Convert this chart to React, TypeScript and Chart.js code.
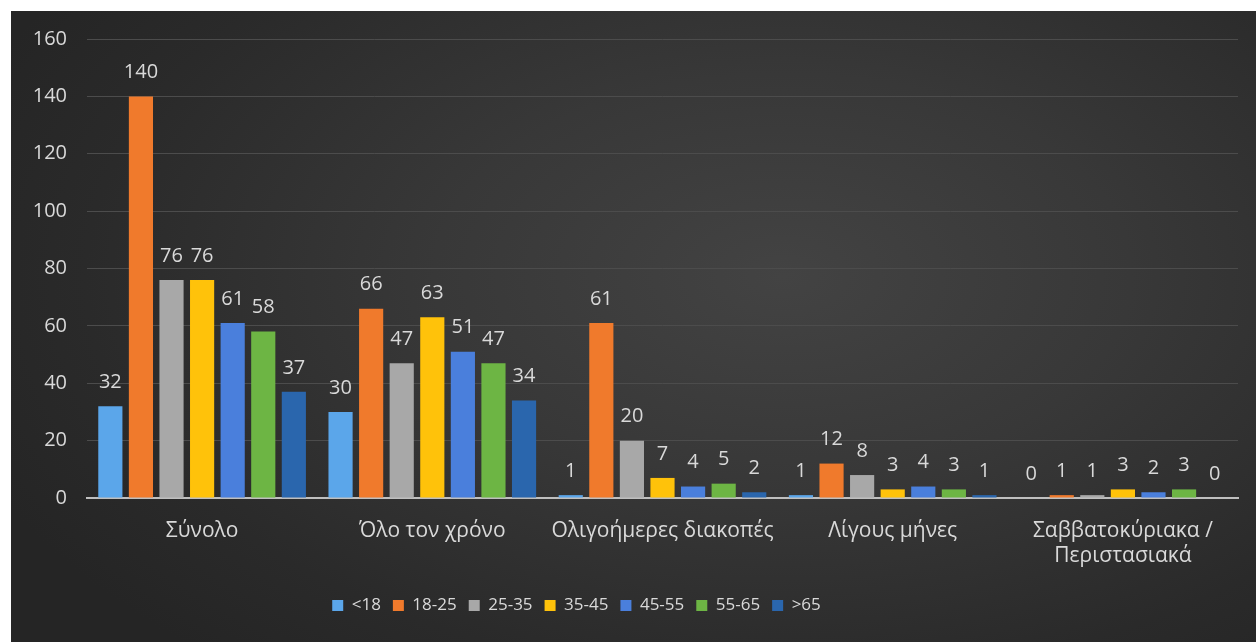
import React, { useEffect, useRef } from "react";
import { Chart, registerables } from "chart.js";

Chart.register(...registerables);

const categories: (string | string[])[] = [
  "Σύνολο",
  "Όλο τον χρόνο",
  "Ολιγοήμερες διακοπές",
  "Λίγους μήνες",
  ["Σαββατοκύριακα /", "Περιστασιακά"],
];

const seriesNames = ["<18", "18-25", "25-35", "35-45", "45-55", "55-65", ">65"];

const under18 = [32, 30, 1, 1, 0];
const age18to25 = [140, 66, 61, 12, 1];
const age25to35 = [76, 47, 20, 8, 1];
const age35to45 = [76, 63, 7, 3, 3];
const age45to55 = [61, 51, 4, 4, 2];
const age55to65 = [58, 47, 5, 3, 3];
const over65 = [37, 34, 2, 1, 0];

const seriesValues = [under18, age18to25, age25to35, age35to45, age45to55, age55to65, over65];

const seriesColors = ["#5ba6ea", "#f07a2c", "#a8a8a8", "#ffc20a", "#4a7fdc", "#6db544", "#2a66ad"];

const yTicks = [0, 20, 40, 60, 80, 100, 120, 140, 160];

const FONT = "'Open Sans', sans-serif";
const TEXT = "#d9d9d9";

const valueLabels = {
  id: "valueLabels",
  afterDatasetsDraw(chart: any) {
    const ctx = chart.ctx;
    ctx.save();
    ctx.fillStyle = TEXT;
    ctx.font = `20px ${FONT}`;
    ctx.textAlign = "center";
    ctx.textBaseline = "middle";
    chart.data.datasets.forEach((ds: any, i: number) => {
      const meta = chart.getDatasetMeta(i);
      meta.data.forEach((bar: any, j: number) => {
        ctx.fillText(String(ds.data[j]), bar.x, bar.y - 24);
      });
    });
    ctx.restore();
  },
};

const legendShift = {
  id: "legendShift",
  afterLayout(chart: any) {
    const lg = chart.legend;
    if (lg) {
      lg.left -= 48;
      lg.right -= 48;
    }
  },
};

export default function App() {
  const ref = useRef<HTMLCanvasElement>(null);
  useEffect(() => {
    if (!ref.current) return;
    const chart = new Chart(ref.current, {
      type: "bar",
      data: {
        labels: categories,
        datasets: seriesNames.map((name, i) => ({
          label: name,
          data: seriesValues[i],
          backgroundColor: seriesColors[i],
          borderWidth: 0,
          categoryPercentage: 0.93,
          barPercentage: 0.79,
        })),
      },
      options: {
        animation: false,
        responsive: false,
        maintainAspectRatio: false,
        layout: { padding: { top: 28, right: 18, bottom: 18, left: 0 } },
        plugins: {
          tooltip: { enabled: false },
          legend: {
            position: "bottom",
            labels: {
              color: TEXT,
              font: { family: FONT, size: 17 },
              boxWidth: 11,
              boxHeight: 11,
              padding: 12,
            },
          },
        },
        scales: {
          x: {
            grid: { display: false },
            border: { display: true, color: "#bfbfbf", width: 2 },
            ticks: {
              color: TEXT,
              font: { family: FONT, size: 21 },
              padding: 12,
              maxRotation: 0,
              autoSkip: false,
            },
            afterFit: (s: any) => {
              s.height = 87;
            },
          },
          y: {
            min: 0,
            max: 160,
            afterBuildTicks: (s: any) => {
              s.ticks = yTicks.map((v) => ({ value: v }));
            },
            grid: { color: "#4c4c4c", lineWidth: 1, drawTicks: false },
            border: { display: false },
            ticks: {
              color: TEXT,
              font: { family: FONT, size: 20 },
              padding: 20,
            },
            afterFit: (s: any) => {
              s.width = 76;
              s.paddingTop = 10;
              s.paddingBottom = 10;
            },
          },
        },
      },
      plugins: [valueLabels, legendShift],
    });
    return () => chart.destroy();
  }, []);
  return (
    <div
      style={{
        position: "absolute",
        left: 11,
        top: 11,
        width: 1245,
        height: 631,
        background:
          "radial-gradient(ellipse 70% 80% at 62% 42%, #434343 0%, #383838 40%, #2a2a2a 80%, #252525 100%)",
      }}
    >
      <canvas ref={ref} width={1245} height={631} style={{ display: "block" }} />
    </div>
  );
}
